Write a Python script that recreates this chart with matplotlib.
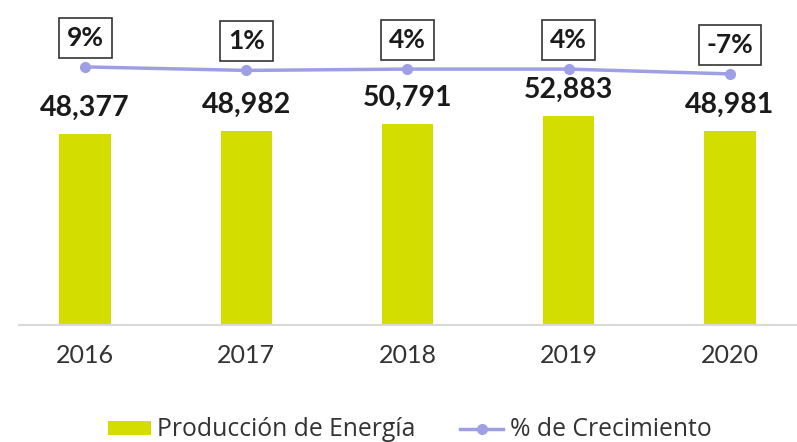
import matplotlib
matplotlib.use("Agg")
import matplotlib.pyplot as plt
from matplotlib.patches import Patch
from matplotlib.lines import Line2D

years = ["2016", "2017", "2018", "2019", "2020"]
produccion = [48377, 48982, 50791, 52883, 48981]
crecimiento = [9, 1, 4, 4, -7]
pct_labels = ["9%", "1%", "4%", "4%", "-7%"]

bar_color = "#d3de00"
line_color = "#9f9fe6"
text_color = "#1a1a1a"

fig = plt.figure(figsize=(7.97, 4.42), dpi=100)
ax = fig.add_axes([19 / 797, 117 / 442, 777 / 797, 325 / 442])
x = list(range(len(years)))

ax.bar(x, produccion, width=0.32, color=bar_color, zorder=2)
ax.set_xlim(-0.41, 4.41)
ax.set_ylim(0, 82225)
ax.set_yticks([])
for s in ["top", "right", "left"]:
    ax.spines[s].set_visible(False)
ax.spines["bottom"].set_color("#d9d9d9")
ax.spines["bottom"].set_linewidth(1.5)
ax.set_xticks(x)
ax.set_xticklabels(years, family="Lato", fontsize=18, color="#333333")
ax.tick_params(axis="x", length=0, pad=14)

for xi, v in zip(x, produccion):
    ax.annotate(f"{v:,}", (xi, v), xytext=(0, 13), textcoords="offset points",
                ha="center", va="baseline", family="Lato", fontweight="bold",
                fontsize=20.5, color=text_color)

ax2 = ax.twinx()
ax2.set_ylim(-580.8, 161.9)
ax2.set_yticks([])
for s in ax2.spines.values():
    s.set_visible(False)
ax2.plot(x, crecimiento, color=line_color, linewidth=2.5, marker="o",
         markersize=7, zorder=3)
for xi, v, lab in zip(x, crecimiento, pct_labels):
    ax2.annotate(lab, (xi, v), xytext=(0, 21), textcoords="offset points",
                 ha="center", va="center", family="Lato", fontweight="bold",
                 fontsize=19, color=text_color,
                 bbox=dict(boxstyle="square,pad=0.3", facecolor="white",
                           edgecolor="#333333", linewidth=1.2))

handles = [Patch(facecolor=bar_color, edgecolor="none"),
           Line2D([0], [0], color=line_color, linewidth=2.5, marker="o",
                  markersize=7)]
fig.legend(handles, ["Producción de Energía", "% de Crecimiento"],
           loc="center", bbox_to_anchor=(0.514, 12 / 442), ncol=2, frameon=False,
           prop=dict(family="Open Sans", size=17.8), handlelength=1.75,
           handleheight=0.52, handletextpad=0.25, columnspacing=1.8,
           labelcolor="#333333")

fig.savefig("out.png", dpi=100)
